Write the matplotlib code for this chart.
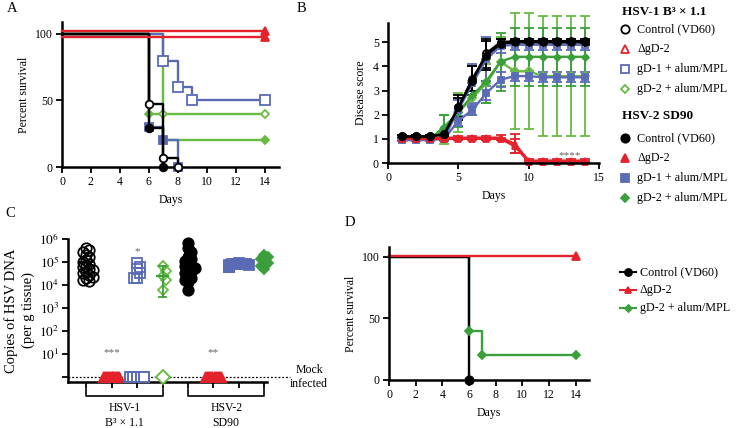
import numpy as np
import matplotlib
matplotlib.use('Agg')
import matplotlib.pyplot as plt
import matplotlib.transforms as mtransforms
from matplotlib.lines import Line2D

plt.rcParams['font.family'] = ['Liberation Serif', 'DejaVu Serif']
plt.rcParams['mathtext.fontset'] = 'stix'

BLACK = 'black'
RED = '#e3222b'
BLUE = '#5a6bb6'
GREEN = '#3b9f3b'
GREEN_LT = '#69bb43'

# ---------- panel A : survival (percent) ----------
a_ctrl1_t = [0, 6, 7, 8]
a_ctrl1_s = [100, 47, 7, 0]
a_ctrl2_t = [0, 6, 7]
a_ctrl2_s = [100, 29, 0]
a_dgd1_t = [0, 14]
a_dgd1_s = [98, 98]
a_dgd2_t = [0, 14]
a_dgd2_s = [102, 102]
a_gd1_1_t = [0, 7, 8, 9, 14]
a_gd1_1_s = [100, 80, 60, 50, 50]
a_gd1_2_t = [0, 6, 7, 8]
a_gd1_2_s = [100, 30, 20, 0]
a_gd2_1_t = [0, 7, 14]
a_gd2_1_s = [100, 40, 40]
a_gd2_2_t = [0, 6, 7, 14]
a_gd2_2_s = [100, 40, 20, 20]

# ---------- panel B : disease score ----------
days = np.arange(1, 15)
b_ctrl1 = [1.1, 1.1, 1.1, 1.2, 2.3, 3.4, 4.55, 5.0, 5.05, 5.05, 5.05, 5.05, 5.05, 5.05]
b_ctrl1_e = [0.05, 0.05, 0.05, 0.1, 0.5, 0.6, 0.6, 0.15, 0.1, 0.1, 0.1, 0.1, 0.1, 0.1]
b_ctrl2 = [1.1, 1.1, 1.1, 1.2, 2.3, 3.5, 4.45, 4.95, 5.0, 5.0, 5.0, 5.0, 5.0, 5.0]
b_ctrl2_e = [0.05, 0.05, 0.05, 0.1, 0.4, 0.5, 0.6, 0.2, 0.1, 0.1, 0.1, 0.1, 0.1, 0.1]
b_dgd1 = [1.05, 1.05, 1.05, 1.05, 1.05, 1.05, 1.05, 1.05, 0.8, 0.1, 0.1, 0.1, 0.1, 0.1]
b_dgd1_e = [0.05, 0.05, 0.05, 0.05, 0.05, 0.05, 0.05, 0.1, 0.4, 0.05, 0.05, 0.05, 0.05, 0.05]
b_dgd2 = [1.0, 1.0, 1.0, 1.0, 1.0, 1.0, 1.0, 1.0, 0.7, 0.05, 0.05, 0.05, 0.05, 0.05]
b_dgd2_e = [0.05, 0.05, 0.05, 0.05, 0.05, 0.05, 0.05, 0.05, 0.3, 0.05, 0.05, 0.05, 0.05, 0.05]
b_gd1_1 = [1.0, 1.0, 1.0, 1.05, 2.2, 3.3, 4.3, 4.85, 4.9, 4.9, 4.9, 4.9, 4.9, 4.9]
b_gd1_1_e = [0.05, 0.05, 0.05, 0.1, 0.4, 0.8, 0.9, 0.3, 0.2, 0.2, 0.2, 0.2, 0.2, 0.2]
b_gd1_2 = [0.95, 0.95, 0.95, 1.0, 1.75, 2.2, 2.9, 3.45, 3.6, 3.6, 3.55, 3.55, 3.55, 3.55]
b_gd1_2_e = [0.05, 0.05, 0.05, 0.1, 0.2, 0.2, 0.3, 0.3, 0.2, 0.2, 0.2, 0.2, 0.2, 0.2]
b_gd2_1 = [1.0, 1.0, 1.0, 1.4, 2.1, 2.7, 3.3, 4.2, 3.8, 3.8, 3.6, 3.6, 3.6, 3.6]
b_gd2_1_e = [0.05, 0.05, 0.05, 0.6, 0.8, 0.7, 0.8, 1.0, 2.4, 2.4, 2.5, 2.5, 2.5, 2.5]
b_gd2_2 = [1.0, 1.0, 1.0, 1.5, 2.1, 2.8, 3.4, 4.2, 4.4, 4.4, 4.4, 4.4, 4.4, 4.4]
b_gd2_2_e = [0.05, 0.05, 0.05, 0.5, 0.6, 0.5, 0.9, 1.2, 1.2, 1.2, 1.2, 1.2, 1.2, 1.2]

# ---------- panel C : viral DNA copies ----------
c_pos = [1, 2, 3, 4, 5, 6, 7, 8]
c_hsv1_ctrl = [4.2e5, 3.3e5, 2.8e5, 2.0e5, 1.6e5, 1.2e5, 1.0e5, 8.5e4, 7e4, 6e4, 5e4,
               4.4e4, 3.8e4, 3.2e4, 2.7e4, 2.3e4, 2.0e4, 1.7e4, 1.5e4]
c_hsv1_gd1 = [9e4, 6e4, 5e4, 3.2e4, 2.1e4, 2.0e4]
c_hsv1_gd2 = [6.5e4, 4e4, 2.5e4, 1.6e4, 6e3]
c_hsv2_ctrl = [7e5, 4e5, 2.6e5, 1.6e5, 1.3e5, 1.1e5, 9e4, 7.5e4, 6.5e4, 5.5e4, 4.5e4,
               3.8e4, 3.2e4, 2.6e4, 2.1e4, 1.7e4, 1.3e4, 6e3]
c_hsv2_gd1 = [9e4, 8.5e4, 8.2e4, 8e4, 7.8e4, 7.5e4, 7.2e4, 7e4, 6.8e4, 6.5e4, 6.2e4, 6e4]
c_hsv2_gd2 = [2e5, 1.6e5, 1.3e5, 1.1e5, 9e4, 7e4, 5e4]
c_mock = 1.0
c_n_below = [0, 9, 5, 1, 0, 8, 0, 0]   # animals at the mock (undetected) level
c_sum_x = [1, 4, 5, 8]
c_sum_mean = [1.0e5, 2.5e4, 1.3e5, 1.2e5]
c_sum_lo = [1.0e5, 3e3, 1.3e5, 1.2e5]
c_sum_hi = [1.0e5, 7e4, 3e5, 1.2e5]
c_yticks = [1, 10, 1e2, 1e3, 1e4, 1e5, 1e6]
c_yticklabels = ['', '$10^{1}$', '$10^{2}$', '$10^{3}$', '$10^{4}$', '$10^{5}$', '$10^{6}$']

# ---------- panel D : survival (percent) ----------
d_ctrl_t = [0, 6]
d_ctrl_s = [100, 0]
d_dgd2_t = [0, 14]
d_dgd2_s = [101, 101]
d_gd2_t = [0, 6, 7, 14]
d_gd2_s = [100, 40, 20, 20]

W, H = 736, 428
fig = plt.figure(figsize=(W / 100, H / 100), dpi=100)


def px_axes(l, t, r, b):
    return fig.add_axes([l / W, 1 - b / H, (r - l) / W, (b - t) / H])


def style(ax, fs=8.5):
    for s in ['top', 'right']:
        ax.spines[s].set_visible(False)
    for s in ['left', 'bottom']:
        ax.spines[s].set_linewidth(1.8)
    ax.tick_params(width=1.3, length=4, labelsize=fs, pad=2.5)


def surv(ax, t, s, color, marker, filled, ms=6, z=2):
    ax.plot(t, s, drawstyle='steps-post', color=color, lw=1.7, clip_on=False, zorder=z)
    ax.plot(t[1:], s[1:], ls='none', marker=marker, ms=ms, mew=1.3, mec=color,
            mfc=color if filled else 'white', clip_on=False, zorder=z + 0.5)


# ===== A =====
axA = px_axes(62, 22, 279, 167)
style(axA)
surv(axA, a_gd2_1_t, a_gd2_1_s, GREEN_LT, 'D', False, ms=4.5)
surv(axA, a_gd2_2_t, a_gd2_2_s, GREEN_LT, 'D', True, ms=4)
surv(axA, a_gd1_1_t, a_gd1_1_s, BLUE, 's', False, ms=6.5)
surv(axA, a_gd1_2_t, a_gd1_2_s, BLUE, 's', True, ms=5.5)
surv(axA, a_ctrl1_t, a_ctrl1_s, BLACK, 'o', False, ms=5.5, z=4)
surv(axA, a_ctrl2_t, a_ctrl2_s, BLACK, 'o', True, ms=5.5, z=4)
surv(axA, a_dgd1_t, a_dgd1_s, RED, '^', True, ms=5.5, z=5)
surv(axA, a_dgd2_t, a_dgd2_s, RED, '^', True, ms=5.5, z=5)
axA.set_xlim(0, 15)
axA.set_ylim(0, 109)
axA.set_xticks(range(0, 15, 2))
axA.set_yticks([0, 50, 100])
axA.set_xlabel('Days', fontsize=8.5, labelpad=4)
axA.set_ylabel('Percent survival', fontsize=8.5, labelpad=4)

# ===== B =====
axB = px_axes(388, 23, 599, 163)
style(axB)
b_series = [
    (b_gd2_1, b_gd2_1_e, GREEN_LT, 'D', False, 4),
    (b_gd2_2, b_gd2_2_e, GREEN, 'D', True, 3.5),
    (b_gd1_1, b_gd1_1_e, BLUE, 's', False, 5),
    (b_gd1_2, b_gd1_2_e, BLUE, 's', True, 5),
    (b_dgd1, b_dgd1_e, RED, '^', False, 5),
    (b_dgd2, b_dgd2_e, RED, '^', True, 5),
    (b_ctrl2, b_ctrl2_e, BLACK, 'o', True, 5),
    (b_ctrl1, b_ctrl1_e, BLACK, 'o', False, 5),
]
for vals, err, col, mk, filled, ms in b_series:
    axB.errorbar(days, vals, yerr=err, color=col, marker=mk, ms=ms, mew=1.3,
                 mfc=col if filled else 'none', mec=col, lw=1.7, elinewidth=1.3,
                 capsize=3.5, capthick=1.3, clip_on=False)
axB.text(12.9, 0.3, '****', ha='center', va='center', fontsize=8, color='#666666')
axB.set_xlim(0, 15)
axB.set_ylim(0, 5.8)
axB.set_xticks([0, 5, 10, 15])
axB.set_yticks(range(6))
axB.set_xlabel('Days', fontsize=8.5, labelpad=4)
axB.set_ylabel('Disease score', fontsize=8.5, labelpad=4)


# ===== C =====
def swarm(vals, dx=0.13, dy=0.22):
    placed = []
    xs = []
    for yi in np.log10(vals):
        for k in [0, 1, -1, 2, -2, 3, -3]:
            xo = k * dx
            if all(abs(xo - px) >= dx * 0.99 or abs(yi - py) >= dy for px, py in placed):
                break
        placed.append((xo, yi))
        xs.append(xo)
    return np.array(xs)


axC = px_axes(68, 239, 267, 382)
style(axC, fs=9.5)
axC.set_yscale('log')
c_groups = [
    (c_hsv1_ctrl, BLACK, 'o', False, 7.5),
    (c_hsv1_gd1, BLUE, 's', False, 7.5),
    (c_hsv1_gd2, GREEN_LT, 'D', False, 5.5),
    (c_hsv2_ctrl, BLACK, 'o', True, 7.5),
    (c_hsv2_gd1, BLUE, 's', True, 7.5),
    (c_hsv2_gd2, GREEN, 'D', True, 5.5),
]
c_group_pos = [1, 3, 4, 5, 7, 8]
for (vals, col, mk, filled, ms), xp in zip(c_groups, c_group_pos):
    axC.plot(xp + swarm(vals), vals, ls='none', marker=mk, ms=ms, mew=1.3, mec=col,
             mfc=col if filled else 'none', clip_on=False, zorder=3)
below_style = [None, (RED, '^', False), (BLUE, 's', False), (GREEN_LT, 'D', False),
               None, (RED, '^', True), None, None]
for xp, n, st in zip(c_pos, c_n_below, below_style):
    if n == 0:
        continue
    col, mk, filled = st
    offs = np.linspace(-0.28, 0.28, n) if n > 1 else np.zeros(1)
    axC.plot(xp + offs, [c_mock] * n, ls='none', marker=mk, ms=7, mew=1.4, mec=col,
             mfc=col if (filled or mk == '^') else 'white', clip_on=False, zorder=4)
sum_cols = [BLACK, GREEN, BLACK, GREEN]
for xp, m, lo, hi, col in zip(c_sum_x, c_sum_mean, c_sum_lo, c_sum_hi, sum_cols):
    axC.plot([xp - 0.22, xp + 0.22], [m, m], color=col, lw=1.5, zorder=5)
    axC.plot([xp, xp], [lo, hi], color=col, lw=1.3, zorder=5)
    for yv in (lo, hi):
        if yv != m:
            axC.plot([xp - 0.12, xp + 0.12], [yv, yv], color=col, lw=1.3, zorder=5)
axC.plot([0.29, 9.0], [c_mock, c_mock], ls=(0, (1.5, 1.5)), color=BLACK, lw=0.9,
         clip_on=False, zorder=2)
axC.text(9.75, c_mock, 'Mock\ninfected', ha='center', va='center', fontsize=8.5,
         linespacing=1.2)
axC.text(3, 2.8e5, '*', ha='center', va='center', fontsize=8, color='#666666')
axC.text(2, 12, '***', ha='center', va='center', fontsize=8, color='#666666')
axC.text(6, 12, '**', ha='center', va='center', fontsize=8, color='#666666')
axC.set_xlim(0.29, 8.1)
axC.set_ylim(10 ** -0.22, 1e6)
axC.set_xticks(c_pos)
axC.set_xticklabels([])
axC.set_yticks(c_yticks)
axC.set_yticklabels(c_yticklabels)
axC.yaxis.set_minor_locator(matplotlib.ticker.NullLocator())
axC.set_ylabel('Copies of HSV DNA\n(per g tissue)', fontsize=10.5, labelpad=3,
               linespacing=1.3)
trC = mtransforms.blended_transform_factory(axC.transData, axC.transAxes)
c_brackets = [(1, 4, 'HSV-1\nB³ × 1.1'), (5, 8, 'HSV-2\nSD90')]
for x0, x1, lab in c_brackets:
    axC.plot([x0, x0, x1, x1], [-0.05, -0.095, -0.095, -0.05], color=BLACK, lw=1.2,
             transform=trC, clip_on=False)
    axC.text((x0 + x1) / 2, -0.14, lab, transform=trC, ha='center', va='top',
             fontsize=8.5, linespacing=1.35)

# ===== D =====
axD = px_axes(389, 247, 589, 380)
style(axD)
surv(axD, d_gd2_t, d_gd2_s, GREEN, 'D', True, ms=4)
surv(axD, d_ctrl_t, d_ctrl_s, BLACK, 'o', True, ms=6)
surv(axD, d_dgd2_t, d_dgd2_s, RED, '^', True, ms=6)
axD.set_xlim(0, 15)
axD.set_ylim(0, 108)
axD.set_xticks(range(0, 15, 2))
axD.set_yticks([0, 50, 100])
axD.set_xlabel('Days', fontsize=8.5, labelpad=4)
axD.set_ylabel('Percent survival', fontsize=8.5, labelpad=4)

# panel letters
for lab, x, y in [('A', 7, 8), ('B', 297, 8), ('C', 5, 213), ('D', 345, 222)]:
    fig.text(x / W, 1 - y / H, lab, fontsize=10.5, ha='left', va='center')


# legends drawn by hand
def leg_item(x, y, col, mk, filled, label, ms=6, line=False):
    if line:
        fig.add_artist(Line2D([(x - 8) / W, (x + 8) / W], [1 - y / H] * 2, color=col, lw=1.5))
    fig.add_artist(Line2D([x / W], [1 - y / H], marker=mk, ms=ms, mew=1.3, mec=col,
                          mfc=col if filled else 'none', ls='none'))
    fig.text((x + 12) / W, 1 - y / H, label, fontsize=8.7, ha='left', va='center')


fig.text(622 / W, 1 - 12 / H, 'HSV-1 B³ × 1.1', fontsize=9.5, fontweight='bold', va='center')
leg_item(625, 29, BLACK, 'o', False, 'Control (VD60)')
leg_item(625, 49, RED, '^', False, 'ΔgD-2')
leg_item(625, 69, BLUE, 's', False, 'gD-1 + alum/MPL')
leg_item(625, 89, GREEN_LT, 'D', False, 'gD-2 + alum/MPL', ms=4.5)
fig.text(622 / W, 1 - 116 / H, 'HSV-2 SD90', fontsize=9.5, fontweight='bold', va='center')
leg_item(625, 138, BLACK, 'o', True, 'Control (VD60)')
leg_item(625, 158, RED, '^', True, 'ΔgD-2')
leg_item(625, 178, BLUE, 's', True, 'gD-1 + alum/MPL')
leg_item(625, 198, GREEN, 'D', True, 'gD-2 + alum/MPL', ms=4.5)

leg_item(628, 272, BLACK, 'o', True, 'Control (VD60)', ms=5, line=True)
leg_item(628, 290, RED, '^', True, 'ΔgD-2', ms=5, line=True)
leg_item(628, 308, GREEN, 'D', True, 'gD-2 + alum/MPL', ms=3.5, line=True)

fig.savefig('out.png', dpi=100)
